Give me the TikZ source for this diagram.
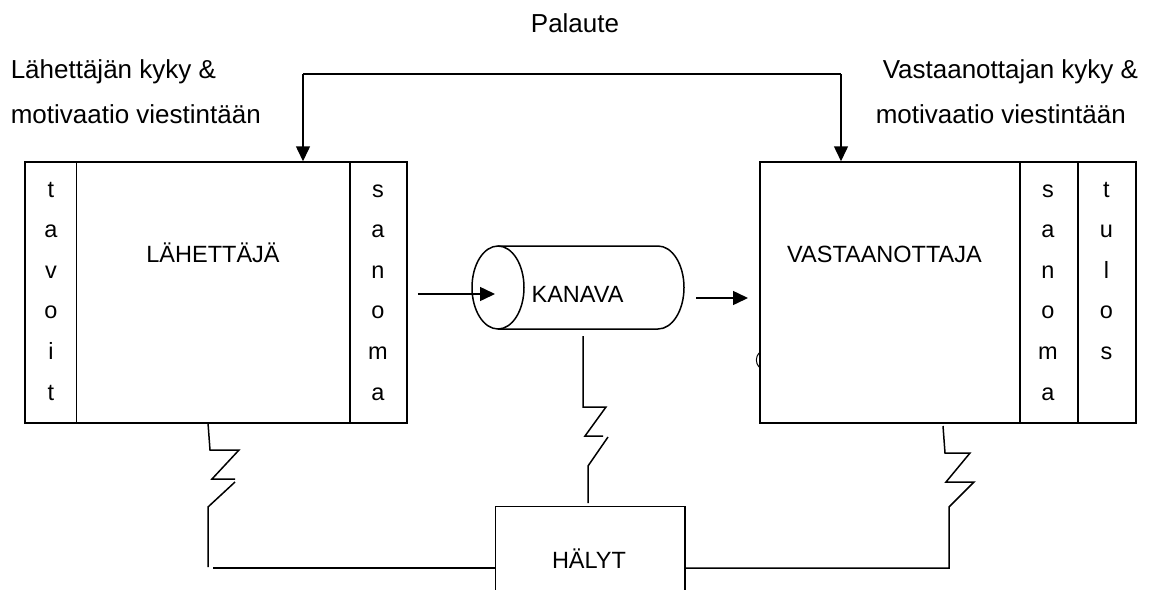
\documentclass[tikz,border=0pt]{standalone}
\usepackage{fontspec}
\setmainfont{Liberation Sans}
\usetikzlibrary{arrows.meta}
\begin{document}
\begin{tikzpicture}[x=1pt,y=-1pt,line width=1.5pt,
  lbl/.style={font=\fontsize{26}{30}\selectfont,inner sep=0pt,anchor=base west},
  boxtxt/.style={font=\fontsize{23.5}{28}\selectfont,inner sep=0pt,anchor=base},
  blk/.style={draw,rectangle,inner sep=0pt},
  arr/.style={-{Triangle[length=15pt,width=14pt]}}]
\useasboundingbox (0,0) rectangle (1151,589);
\fill[white] (0,0) rectangle (1151,589);

% top labels
\node[boxtxt,font=\fontsize{26}{30}\selectfont] (pal) at (575,32) {Palaute};
\node[lbl] (lk1) at (10,78) {Lähettäjän kyky \&};
\node[lbl] (lk2) at (10,123) {motivaatio viestintään};
\node[lbl] (vk1) at (882,78) {Vastaanottajan kyky \&};
\node[lbl] (vk2) at (875,123) {motivaatio viestintään};

% sender block
\node[blk,minimum width=382pt,minimum height=261pt] (lb) at (216,292.5) {};
\draw ([xshift=52pt]lb.north west) -- ([xshift=52pt]lb.south west);
\draw ([xshift=-58pt]lb.north east) -- ([xshift=-58pt]lb.south east);
\node[boxtxt] (lt) at (213,262) {LÄHETTÄJÄ};
\foreach \ch [count=\i] in {t,a,v,o,i,t}
  \node[boxtxt] (tav\i) at (51,{197+40.6*(\i-1)}) {\ch};
\foreach \ch [count=\i] in {s,a,n,o,m,a}
  \node[boxtxt] (lsan\i) at (378,{197+40.6*(\i-1)}) {\ch};

% receiver block
\node[blk,minimum width=376pt,minimum height=261pt] (rb) at (948,292.5) {};
\draw ([xshift=-117pt]rb.north east) -- ([xshift=-117pt]rb.south east);
\draw ([xshift=-59pt]rb.north east) -- ([xshift=-59pt]rb.south east);
\node[boxtxt] (rt) at (884.5,262) {VASTAANOTTAJA};
\foreach \ch [count=\i] in {s,a,n,o,m,a}
  \node[boxtxt] (rsan\i) at (1048,{197+40.6*(\i-1)}) {\ch};
\foreach \ch [count=\i] in {t,u,l,o,s}
  \node[boxtxt] (tul\i) at (1106.5,{197+40.6*(\i-1)}) {\ch};
\draw[line width=1pt] (759,353) .. controls (755.5,357) and (755.5,363) .. (759,367);

% feedback
\coordinate (fbL) at (303,74);
\coordinate (fbR) at (841,74);
\draw (fbL) -- (fbR);
\draw[arr] (fbL) -- (fbL |- lb.north);
\draw[arr] (fbR) -- (fbR |- rb.north);

% channel (cylinder)
\draw (498,287.5) ellipse [x radius=26,y radius=41.5];
\draw (498,246) -- (658,246) arc[start angle=-90,end angle=90,x radius=26,y radius=41.5] -- (498,329);
\node[boxtxt] (kan) at (577.5,302) {KANAVA};
\coordinate (cin) at (495,294);
\coordinate (cout) at (696,298);
\draw[arr] ([xshift=10pt,yshift=-1.5pt]lb.east) -- (cin);
\draw[arr] (cout) -- (748,298);

% noise box
\node[minimum width=188pt,minimum height=106pt,inner sep=0pt] (hb) at (590,560) {};
\draw (hb.south west) -- (hb.north west) -- (hb.north east) -- (hb.south east);
\node[boxtxt] (hal) at (589,568) {HÄLYT};

% noise connectors
\draw (208,423) -- (210,450) -- (239,450) -- (212,479) -- (235,479);
\draw (235,482) -- (208,507) -- (208,567);
\draw (213,568) -- (hb.west |- 213,568);

\draw (583,336) -- (583,407) -- (606,407) -- (585,436) -- (603,436);
\draw (608,437) -- (588,466) -- (588,503);

\draw (943,426) -- (945,453) -- (970,453) -- (946,482) -- (974,482) -- (949,507) -- (949,568) -- (hb.east |- 949,568);
\end{tikzpicture}
\end{document}
